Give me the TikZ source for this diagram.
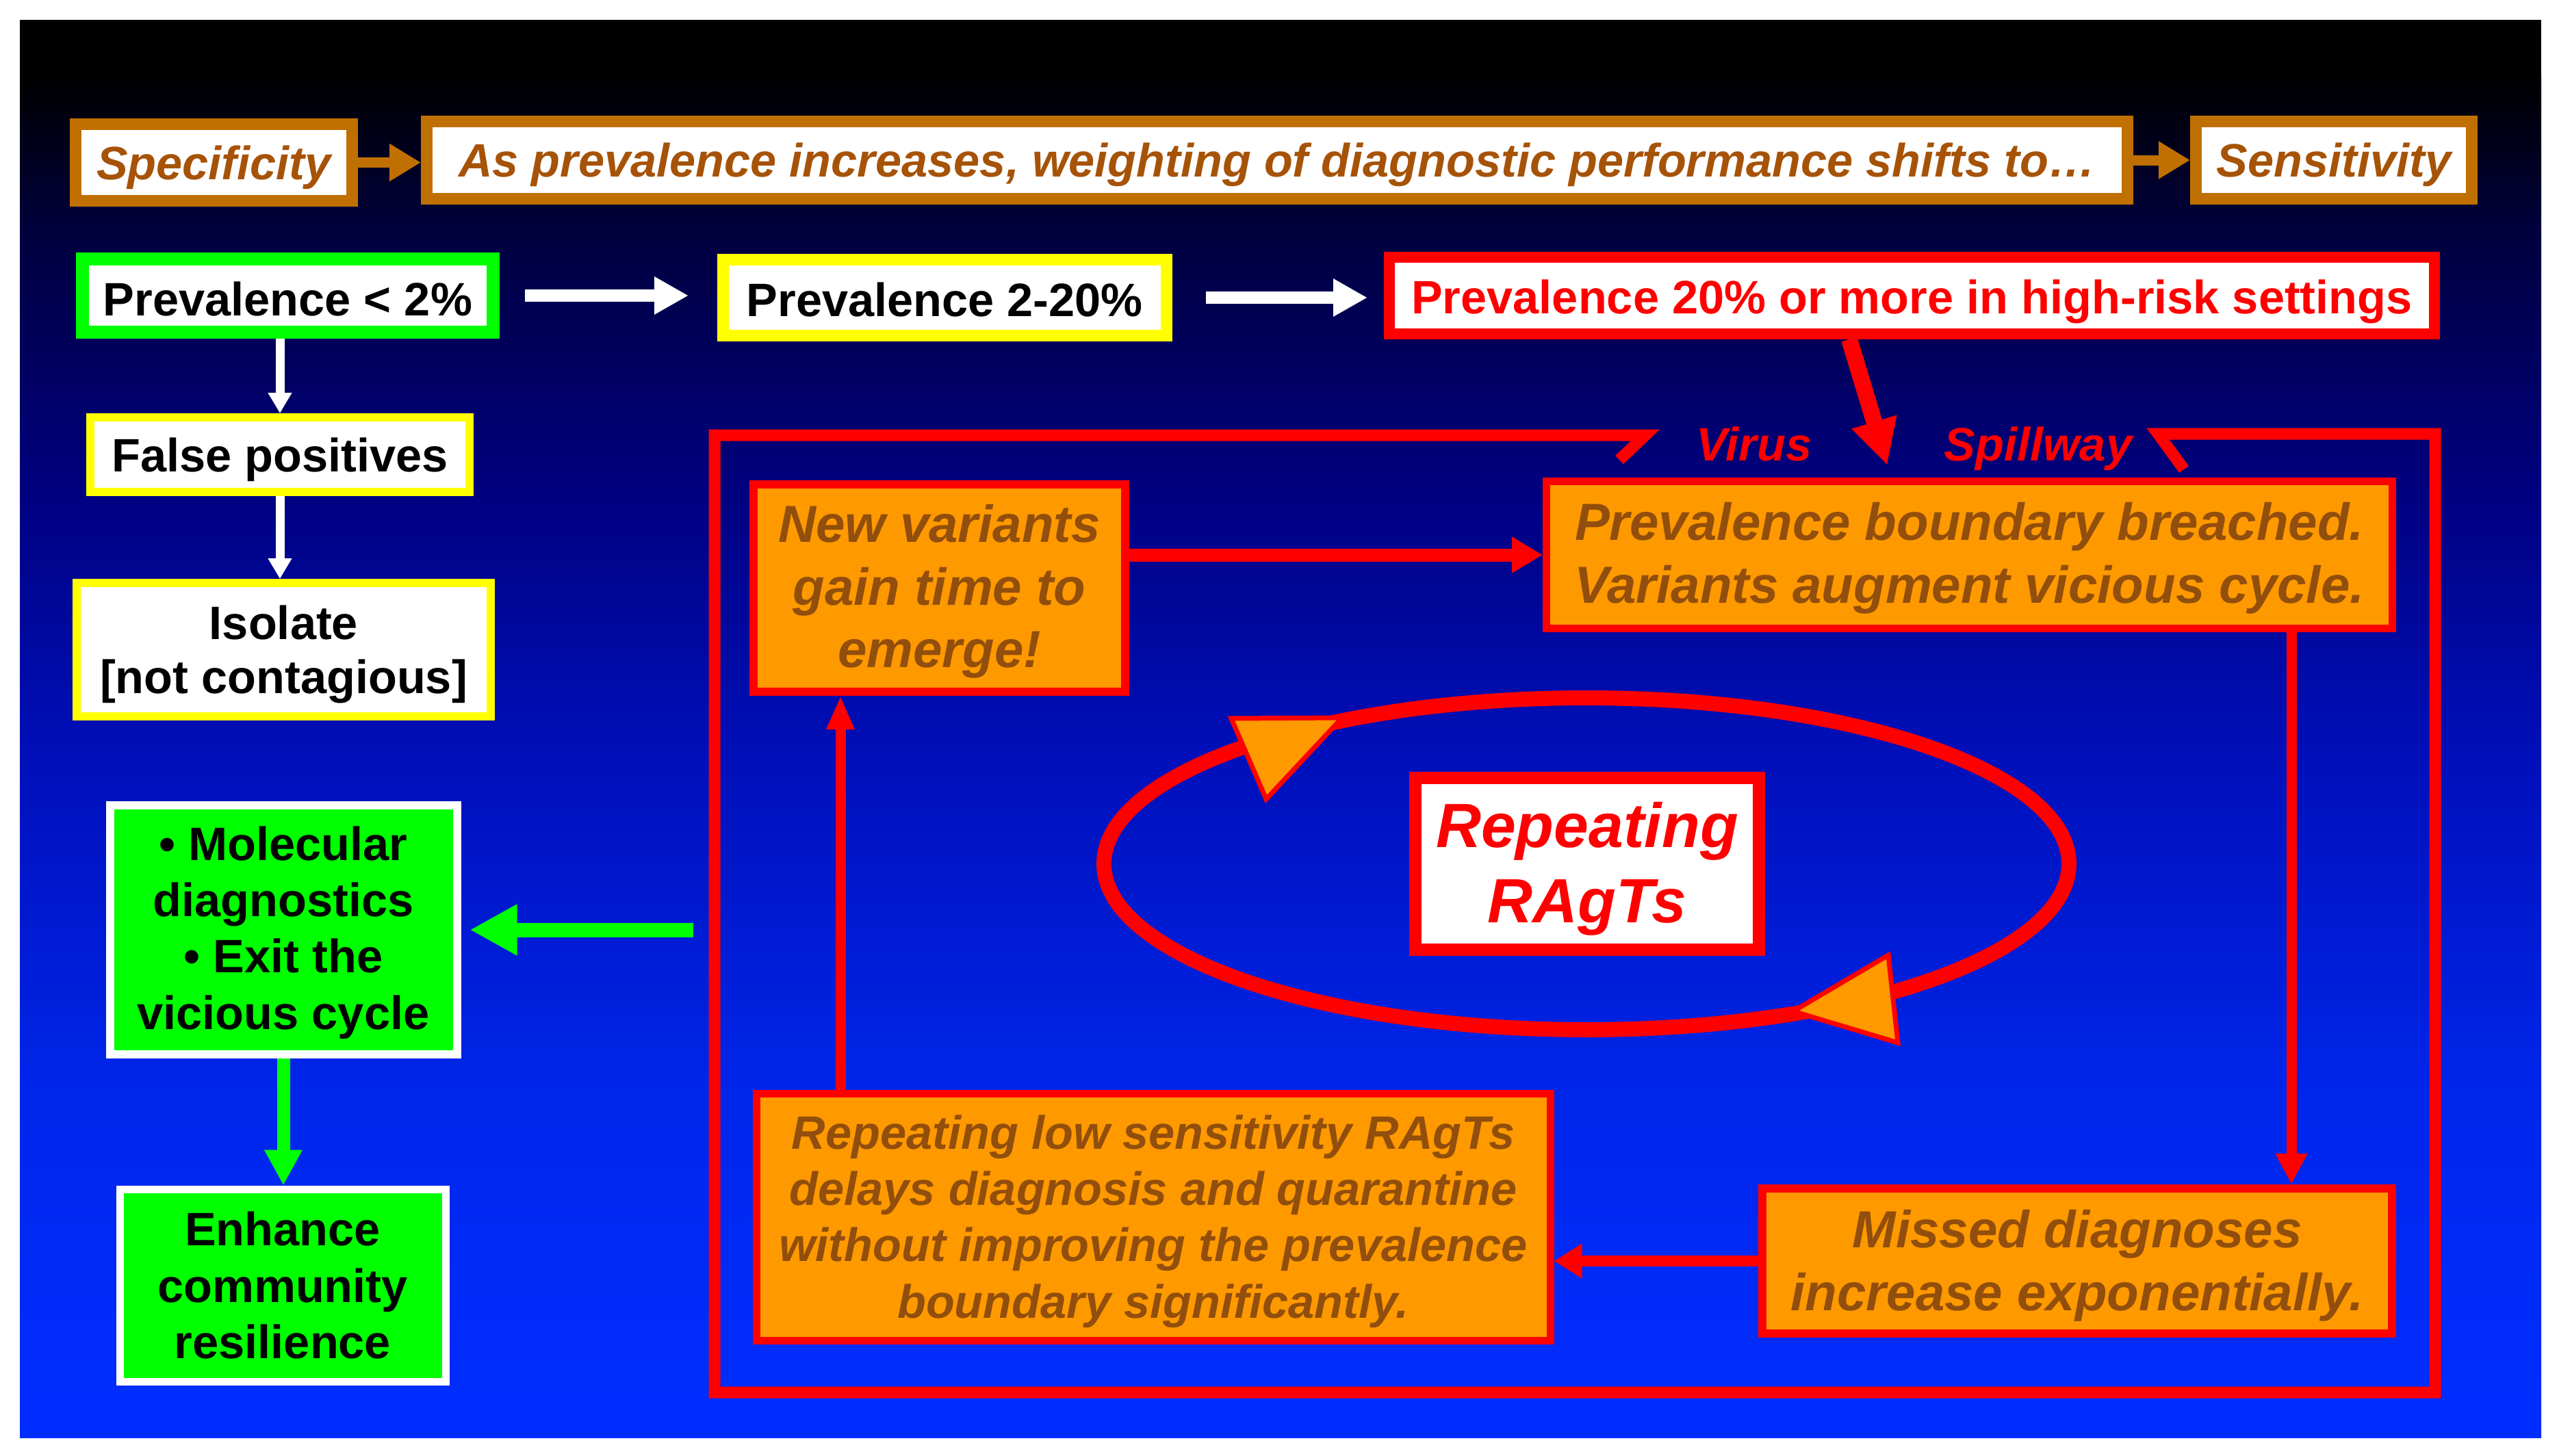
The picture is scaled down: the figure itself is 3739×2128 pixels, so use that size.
\documentclass[tikz,border=0pt]{standalone}
\usepackage{fontspec}
\setmainfont{Liberation Sans}
\usetikzlibrary{arrows.meta}
\definecolor{topor}{RGB}{192,112,0}
\definecolor{topbr}{RGB}{166,83,8}
\definecolor{boxor}{RGB}{255,153,0}
\definecolor{boxbr}{RGB}{145,78,12}
\definecolor{rd}{RGB}{255,0,0}
\definecolor{gr}{RGB}{0,255,0}
\definecolor{yl}{RGB}{255,255,0}
\definecolor{bgA}{RGB}{0,0,0}
\definecolor{bgB}{RGB}{0,0,64}
\definecolor{bgC}{RGB}{0,0,125}
\definecolor{bgD}{RGB}{0,15,185}
\definecolor{bgE}{RGB}{0,38,235}
\definecolor{bgF}{RGB}{0,45,255}
\newcommand\fsA{\fontsize{19.5}{23.4}\selectfont}
\newcommand\fsB{\fontsize{21.7}{26.1}\selectfont}
\newcommand\fsC{\fontsize{26}{31.2}\selectfont}
\begin{document}
\begin{tikzpicture}[x=0.1mm, y=-0.1mm,
  bx/.style={rectangle, inner sep=0pt},
  tx/.style={inner sep=0pt, align=center},
  tbox/.style={bx, draw=topor, fill=white, line width=1.7mm},
  ttxt/.style={tx, text=topbr, font=\fsA\bfseries\itshape},
  wbox/.style={bx, fill=white},
  wtxt/.style={tx, font=\fsA\bfseries, text=black},
  gbox/.style={bx, draw=white, fill=gr},
  obox/.style={bx, draw=rd, fill=boxor},
  otxt/.style={tx, text=boxbr, font=\fsB\bfseries\itshape},
  oarrow/.style={draw=topor, line width=1.5mm, -{Triangle[length=4.6mm,width=5.2mm]}},
  warrowH/.style={draw=white, line width=1.8mm, -{Triangle[length=5mm,width=5.2mm]}},
  warrowV/.style={draw=white, line width=1.3mm, -{Triangle[length=3mm,width=3.3mm]}},
  garrowH/.style={draw=gr, line width=2.1mm, -{Triangle[length=6.9mm,width=7mm]}},
  garrowV/.style={draw=gr, line width=1.9mm, -{Triangle[length=5.2mm,width=5.2mm]}},
  rarrow/.style={draw=rd, line width=#1},
  frame/.style={draw=rd, line width=1.7mm, line join=miter},
  lbl/.style={text=rd, font=\fsA\bfseries\itshape, inner sep=0pt}
]
\useasboundingbox (0,0) rectangle (3739,2128);
\fill[white] (0,0) rectangle (3739,2128);
% background gradient
\fill[bgA] (29,29) rectangle (3713,111);
\fill[top color=bgA, bottom color=bgB] (29,110) rectangle (3713,351);
\fill[top color=bgB, bottom color=bgC] (29,350) rectangle (3713,701);
\fill[top color=bgC, bottom color=bgD] (29,700) rectangle (3713,1101);
\fill[top color=bgD, bottom color=bgE] (29,1100) rectangle (3713,1601);
\fill[top color=bgE, bottom color=bgF] (29,1600) rectangle (3713,2101);

% top row
\node[tbox, minimum width=40.4mm, minimum height=11.2mm] (spec) at (312.5,237.5) {};
\node[ttxt] (spec-t) at ([yshift=-0.7mm]spec.center) {Specificity};
\node[tbox, minimum width=248.5mm, minimum height=11.3mm] (perf) at (1866,234) {};
\node[ttxt] (perf-t) at ([yshift=-0.7mm]perf.center) {As prevalence increases, weighting of diagnostic performance shifts to…};
\node[tbox, minimum width=40.3mm, minimum height=11.3mm] (sens) at (3410,234) {};
\node[ttxt] (sens-t) at ([yshift=-0.7mm]sens.center) {Sensitivity};
\draw[oarrow] (spec.east) -- (spec.east -| perf.west);
\draw[oarrow] (perf.east) -- (perf.east -| sens.west);

% prevalence row
\node[wbox, draw=gr, line width=1.9mm, minimum width=60mm, minimum height=10.7mm] (p2) at (420.5,432) {};
\node[wtxt] (p2-t) at ([yshift=-0.5mm]p2.center) {Prevalence < 2\%};
\node[wbox, draw=yl, line width=1.7mm, minimum width=64.8mm, minimum height=11.1mm] (p220) at (1380.5,435) {};
\node[wtxt] (p220-t) at ([yshift=-0.3mm]p220.center) {Prevalence 2-20\%};
\node[wbox, draw=rd, line width=1.6mm, minimum width=152.7mm, minimum height=11.2mm] (p20) at (2793.5,432) {};
\node[wtxt, text=rd] (p20-t) at ([yshift=-0.9mm]p20.center) {Prevalence 20\% or more in high-risk settings};
\draw[warrowH, shorten <=3.7mm, shorten >=4.2mm] (p2.east) -- (p2.east -| p220.west);
\draw[warrowH, shorten <=4.9mm, shorten >=2.4mm] (p220.east) -- (p220.east -| p20.west);

% left column
\node[wbox, draw=yl, line width=1.2mm, minimum width=55.4mm, minimum height=10.9mm] (fp) at (409,664.5) {};
\node[wtxt] (fp-t) at ([yshift=-0.7mm]fp.center) {False positives};
\node[wbox, draw=yl, line width=1.2mm, minimum width=60.5mm, minimum height=19.5mm] (iso) at (414.5,949.5) {};
\node[wtxt, font=\fontsize{19.5}{22.4}\selectfont\bfseries] (iso-t) at ([yshift=-0.7mm]iso.center) {Isolate\\{}[not contagious]};
\draw[warrowV] (fp.north |- p2.south) -- (fp.north);
\draw[warrowV] (fp.south) -- (fp.south |- iso.north);

\node[gbox, line width=1.2mm, minimum width=50.7mm, minimum height=36.4mm] (mol) at (414,1359) {};
\node[wtxt] (mol-t) at ([yshift=-0.4mm]mol.center) {• Molecular\\diagnostics\\• Exit the\\vicious cycle};
\node[gbox, line width=1.1mm, minimum width=47.6mm, minimum height=28.1mm] (enh) at (413,1878.5) {};
\node[wtxt] (enh-t) at (enh.center) {Enhance\\community\\resilience};
\coordinate (gstart) at (1013,1359);
\draw[garrowH, shorten >=1.3mm] (gstart) -- (mol.east);
\draw[garrowV] (mol.south) -- (mol.south |- enh.north);

% red frame with spillway hooks
\coordinate (hkLend) at (2366,672);
\coordinate (hkLtop) at (2404,636);
\coordinate (fTL) at (1044,636);
\coordinate (fBL) at (1044,2035);
\coordinate (fBR) at (3558,2035);
\coordinate (fTR) at (3558,634);
\coordinate (hkRtop) at (3153,634);
\coordinate (hkRend) at (3191,686);
\draw[frame] (hkLend) -- (hkLtop) -- (fTL) -- (fBL) -- (fBR) -- (fTR) -- (hkRtop) -- (hkRend);

\node[lbl, anchor=base] (virus) at (2563,673) {Virus};
\node[lbl, anchor=base] (spill) at (2978,673) {Spillway};

% cycle boxes
\node[obox, line width=1.2mm, minimum width=54.3mm, minimum height=30.3mm] (nv) at (1372.5,859.5) {};
\node[otxt] (nv-t) at ([yshift=-0.5mm]nv.center) {New variants\\gain time to\\emerge!};
\node[obox, line width=1.1mm, minimum width=123.6mm, minimum height=21.5mm] (pb) at (2877.5,811) {};
\node[otxt] (pb-t) at ([yshift=-0.5mm]pb.center) {Prevalence boundary breached.\\Variants augment vicious cycle.};
\node[obox, line width=1.2mm, minimum width=92mm, minimum height=21.2mm] (md) at (3035,1843) {};
\node[otxt] (md-t) at ([yshift=-0.7mm]md.center) {Missed diagnoses\\increase exponentially.};
\node[obox, line width=1.1mm, minimum width=116mm, minimum height=36.1mm] (rl) at (1685,1779) {};
\node[otxt, font=\fsA\bfseries\itshape] (rl-t) at ([yshift=-0.6mm]rl.center) {Repeating low sensitivity RAgTs\\delays diagnosis and quarantine\\without improving the prevalence\\boundary significantly.};

% spillway arrow
\draw[rarrow=2.4mm, -{Triangle[length=6.6mm,width=6.4mm]}, shorten >=1.9mm] ([xshift=-9.15mm]p20.south) -- ([xshift=-11.45mm]pb.north);

\coordinate (vx) at (3348,0);
\coordinate (ux) at (1228,0);
\draw[rarrow=1.9mm, -{Triangle[length=4.5mm,width=5mm]}] (nv.east |- pb.west) -- (pb.west);
\draw[rarrow=1.5mm, -{Triangle[length=4.5mm,width=4.4mm]}] (vx |- pb.south) -- (vx |- md.north);
\draw[rarrow=1.6mm, -{Triangle[length=4.1mm,width=4.8mm]}] (md.west) -- (md.west -| rl.east);
\draw[rarrow=1.5mm, -{Triangle[length=4.9mm,width=3.8mm]}] (ux |- rl.north) -- (ux |- nv.south);

% central cycle
\draw[rd, line width=2.2mm] (2318,1262.5) ellipse [x radius=70.5mm, y radius=24.25mm];
\filldraw[fill=boxor, draw=rd, line width=0.7mm, line join=miter] (1799,1050) -- (1961,1049) -- (1850,1168) -- cycle;
\filldraw[fill=boxor, draw=rd, line width=0.7mm, line join=miter] (2620,1478) -- (2759,1396) -- (2773,1524) -- cycle;
\node[bx, draw=rd, fill=white, line width=1.8mm, minimum width=50.2mm, minimum height=25.1mm] (rr) at (2319,1262) {};
\node[tx, text=rd, font=\fsC\bfseries\itshape] (rr-t) at ([yshift=-0.8mm]rr.center) {Repeating\\RAgTs};
\end{tikzpicture}
\end{document}
